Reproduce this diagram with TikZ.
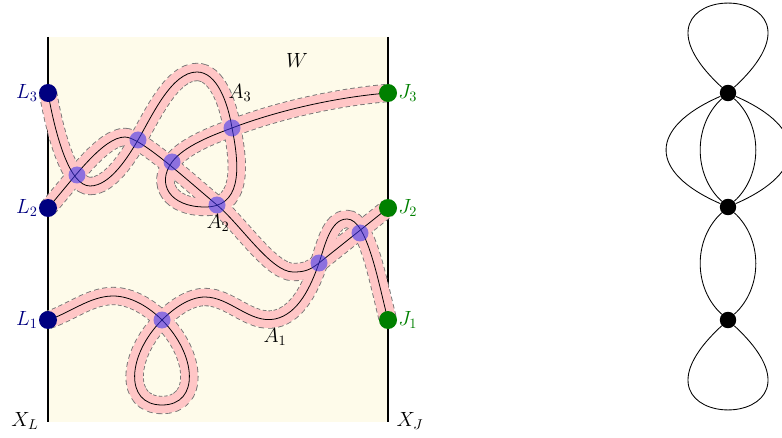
\documentclass[tikz,border=0pt]{standalone}
\pgfdeclarelayer{bglayer}
\pgfsetlayers{bglayer,main}
\definecolor{cream}{RGB}{254,251,234}
\definecolor{lcol}{RGB}{0,0,128}
\definecolor{jcol}{RGB}{0,128,0}
\definecolor{xcol}{RGB}{60,50,240}
\definecolor{pinkband}{RGB}{255,198,198}
\tikzset{
  lnode/.style={circle,fill=lcol,inner sep=0pt,minimum size=12.6pt},
  jnode/.style={circle,fill=jcol,inner sep=0pt,minimum size=12.6pt},
  gnode/.style={circle,fill=black,inner sep=0pt,minimum size=11.5pt},
  llab/.style={text=lcol,inner sep=0.5pt},
  jlab/.style={text=jcol,inner sep=0.5pt},
  txt/.style={inner sep=0pt},
  wall/.style={line width=2pt},
  bandout/.style={draw=black!55,line width=12.8pt,dash pattern=on 3.2pt off 2.1pt},
  bandin/.style={draw=pinkband,line width=11.6pt},
  core/.style={draw=black,line width=0.55pt},
  xdot/.style={fill=xcol,opacity=0.58},
  gedge/.style={line width=0.6pt},
}
\newcommand\strandOne{(L1.center) .. controls (70,313) and (90,296) .. (113,296)
  .. controls (131,296) and (149,307) .. (162,320)
  .. controls (197,355) and (200,405) .. (162,405)
  .. controls (124,405) and (127,355) .. (162,320)
  .. controls (173,309) and (189,297) .. (205,297)
  .. controls (230,297) and (250,324) .. (275,319)
  .. controls (298.5,314) and (311,286) .. (319,263)
  .. controls (324.6,247) and (330,219) .. (347,219)
  .. controls (367,219) and (378,281) .. (J1.center)}
\newcommand\strandTwo{(L2.center) .. controls (74,178) and (103,137) .. (125,137)
  .. controls (140,137) and (186,179) .. (217,205)
  .. controls (240,224) and (271,272) .. (293,272)
  .. controls (303,272) and (309,271) .. (319,263) -- (J2.center)}
\newcommand\strandThree{(L3.center) .. controls (56,138) and (70,186) .. (90,186)
  .. controls (110,186) and (128,157) .. (138,140)
  .. controls (153,114) and (172,72) .. (197,72)
  .. controls (217,72) and (228,103) .. (232,128)
  .. controls (241,172) and (240,207) .. (205,207)
  .. controls (170,207) and (156,184) .. (172,162)
  .. controls (184,146) and (213,135) .. (232,128)
  .. controls (279,110) and (338,97) .. (J3.center)}
\begin{document}
\begin{tikzpicture}[x=0.7pt,y=-0.7pt,font=\fontsize{14}{16}\selectfont]
\useasboundingbox (0,0) rectangle (782,438);
% endpoints
\node[lnode] (L3) at (48,93) {};
\node[lnode] (L2) at (48,208) {};
\node[lnode] (L1) at (48,320) {};
\node[jnode] (J3) at (388,93) {};
\node[jnode] (J2) at (388,208) {};
\node[jnode] (J1) at (388,320) {};
\node[llab,anchor=east] (tL3) at (L3.west) {$L_3$};
\node[llab,anchor=east] (tL2) at (L2.west) {$L_2$};
\node[llab,anchor=east] (tL1) at (L1.west) {$L_1$};
\node[jlab,anchor=west] (tJ3) at (J3.east) {$J_3$};
\node[jlab,anchor=west] (tJ2) at (J2.east) {$J_2$};
\node[jlab,anchor=west] (tJ1) at (J1.east) {$J_1$};
\node[txt] (W) at (297,60) {$W$};
\node[txt] (tA3) at (240,93) {$A_3$};
\node[txt] (tA2) at (218,223) {$A_2$};
\node[txt] (tA1) at (275,337) {$A_1$};
\node[txt] (tXL) at (25,421) {$X_L$};
\node[txt] (tXJ) at (410,421) {$X_J$};
\begin{pgfonlayer}{bglayer}
\fill[cream] (48,37) rectangle (388,422);
\draw[wall] (48,37) -- (48,422);
\draw[wall] (388,37) -- (388,422);
\draw[bandout] \strandOne;
\draw[bandout] \strandTwo;
\draw[bandout] \strandThree;
\draw[bandin] \strandOne;
\draw[bandin] \strandTwo;
\draw[bandin] \strandThree;
\draw[core] \strandOne;
\draw[core] \strandTwo;
\draw[core] \strandThree;
\foreach \p in {(77,175),(138,140),(172,162),(232,128),(217,205),(162,320),(319,263),(360,233)}
  \fill[xdot] \p circle (8.5);
\end{pgfonlayer}
% graph
\node[gnode] (g1) at (728,93) {};
\node[gnode] (g2) at (728,207) {};
\node[gnode] (g3) at (728,320) {};
\draw[gedge] (g1) .. controls +(-128,-118) and +(128,-118) .. (g1);
\draw[gedge] (g1) .. controls +(-80,35) and +(-80,-35) .. (g2);
\draw[gedge] (g1) .. controls +(-35,32) and +(-35,-32) .. (g2);
\draw[gedge] (g1) .. controls +(35,32) and +(35,-32) .. (g2);
\draw[gedge] (g1) .. controls +(80,35) and +(80,-35) .. (g2);
\draw[gedge] (g2) .. controls +(-35,32) and +(-35,-32) .. (g3);
\draw[gedge] (g2) .. controls +(35,32) and +(35,-32) .. (g3);
\draw[gedge] (g3) .. controls +(-128,118) and +(128,118) .. (g3);
\end{tikzpicture}
\end{document}
